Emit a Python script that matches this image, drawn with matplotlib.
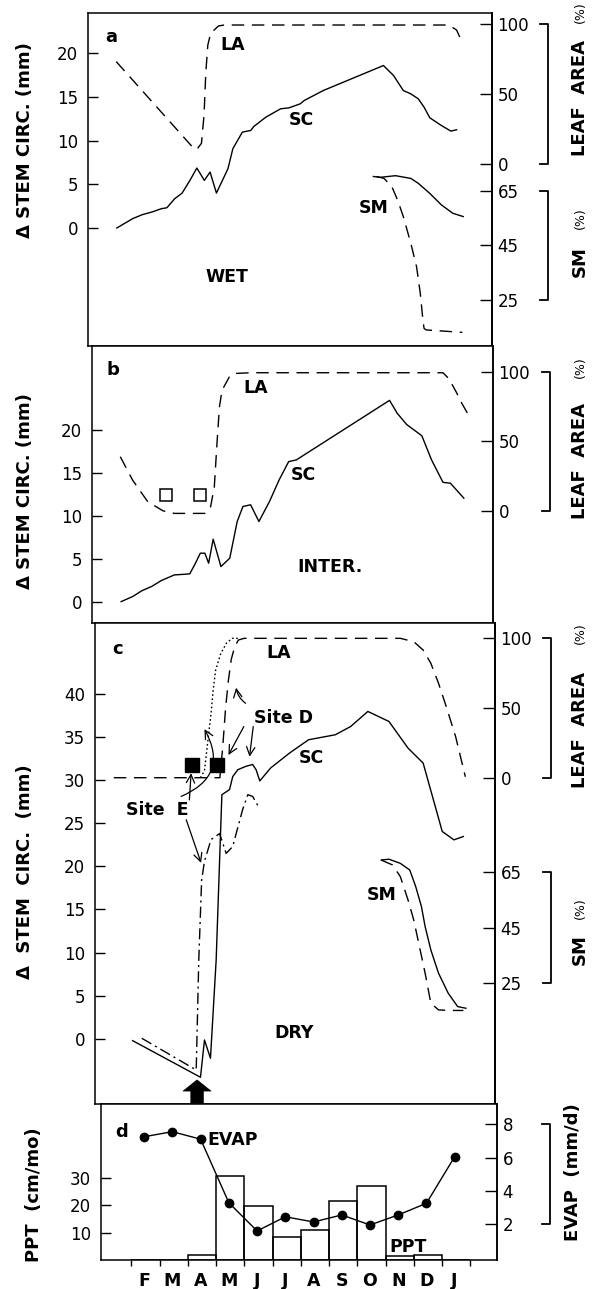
import numpy as np
import matplotlib
matplotlib.use('Agg')
import matplotlib.pyplot as plt
from matplotlib.transforms import blended_transform_factory

# ---- data (x in months from start of Feb) ----
# a: WET
a_sc_x = [-0.08, 0.47, 0.80, 1.14, 1.47, 1.66, 1.93, 2.19, 2.46, 2.70, 2.96, 3.16, 3.38, 3.78, 3.95, 4.28,
          4.57, 4.68, 5.10, 5.61, 5.90, 6.29, 6.43, 7.09, 9.18, 9.53, 9.87, 10.13, 10.39, 10.59, 10.79,
          11.19, 11.52, 11.72]
a_sc = [0, 1.07, 1.52, 1.83, 2.21, 2.32, 3.35, 4.0, 5.45, 6.86, 5.45, 6.4, 4.0, 6.78, 9.07, 10.97,
        11.16, 11.62, 12.69, 13.64, 13.75, 14.21, 14.59, 15.73, 18.59, 17.45, 15.73, 15.35, 14.78, 13.83, 12.61,
        11.73, 11.09, 11.24]
a_la_x = [-0.10, 2.59, 2.70, 2.86, 2.95, 3.01, 3.08, 3.18, 3.45, 3.65, 11.45, 11.72, 11.85]
a_la = [73.3, 11.2, 10.5, 14.8, 35, 65, 85, 93.6, 98.8, 99.5, 99.5, 95.9, 90]
a_sm_x = [8.83, 9.07, 9.60, 10.13, 10.39, 10.79, 11.19, 11.59, 11.95]
a_sm = [70.3, 70.0, 70.6, 69.6, 67.8, 64.1, 59.9, 56.8, 55.6]
a_sm2_x = [8.94, 9.20, 9.47, 9.67, 9.87, 10.13, 10.33, 10.46, 10.55, 10.59, 10.66, 11.92]
a_sm2 = [70.3, 69.6, 66.6, 61.7, 55.6, 45.8, 37.2, 27.4, 17.7, 14.6, 14.0, 13.1]

# b: INTER.
b_sc_x = [-0.06, 0.34, 0.67, 1.0, 1.34, 1.80, 2.34, 2.54, 2.71, 2.87, 3.0, 3.16, 3.43, 3.74, 4.00, 4.20,
          4.47, 4.76, 5.13, 5.47, 5.80, 6.07, 6.40, 9.33, 9.60, 9.93, 10.46, 10.80, 11.20, 11.46, 11.93]
b_sc = [0.08, 0.66, 1.35, 1.82, 2.51, 3.17, 3.29, 4.53, 5.69, 5.69, 4.53, 7.31, 4.14, 5.11, 9.36, 11.1,
        11.3, 9.36, 11.68, 14.2, 16.3, 16.5, 17.2, 23.4, 21.9, 20.6, 19.3, 16.5, 13.9, 13.8, 12.07]
b_la_x = [-0.09, 0.34, 0.87, 1.40, 1.80, 2.20, 2.87, 3.07, 3.20, 3.30, 3.38, 3.47, 3.60, 3.74, 3.94, 4.47,
          11.20, 11.40, 11.66, 11.86, 12.06]
b_la = [39, 22.2, 6.7, 0.2, -1.7, -1.7, -1.7, 3.1, 17.5, 51, 74.9, 86.8, 91.6, 96.9, 98.8, 99.3,
        99.3, 95.2, 85.6, 77.3, 70.1]
b_sq_x = [1.51, 2.71]
b_sq = [12.4, 12.4]

# c: DRY
c_sc_x = [0.24, 2.62, 2.76, 2.97, 3.17, 3.37, 3.46, 3.64, 3.75, 3.93, 4.22, 4.45, 4.57, 4.70, 5.08, 5.74,
          6.41, 7.35, 7.89, 8.49, 9.23, 9.90, 10.43, 11.10, 11.51, 11.84]
c_sc = [-0.2, -4.44, -0.12, -2.24, 9.16, 28.3, 28.5, 28.9, 30.4, 31.2, 31.6, 31.8, 31.2, 29.9, 31.4, 33.12,
        34.67, 35.25, 36.21, 37.95, 36.79, 33.70, 31.96, 24.04, 23.07, 23.46]
c_se_x = [0.56, 2.47, 2.56, 2.66, 2.76, 2.99, 3.29, 3.52, 3.75, 4.10, 4.28, 4.45, 4.69]
c_se = [0.08, -3.6, 9.16, 18.4, 20.6, 23.1, 23.8, 21.5, 22.3, 26.6, 28.3, 28.1, 26.7]
c_la_x = [-0.42, 3.30, 3.40, 3.50, 3.60, 3.70, 3.82, 3.95, 4.15, 9.63, 10.10, 10.43, 10.70, 10.97, 11.24,
          11.57, 11.91]
c_la = [0, 0, 22, 50, 70, 85, 94, 98.8, 100, 100, 97.6, 91.6, 82.1, 67.7, 51.0, 29.4, 0.7]
c_le_x = [2.62, 2.76, 2.87, 2.99, 3.06, 3.15, 3.33, 3.53, 3.73, 3.95]
c_le = [0, 5, 25, 46, 62, 77, 89, 96.5, 100, 100]
c_sm_x = [8.96, 9.23, 9.63, 9.96, 10.17, 10.37, 10.50, 10.70, 10.97, 11.31, 11.64, 11.93]
c_sm = [69.4, 69.7, 68.2, 65.8, 59.8, 52.6, 45.4, 37.0, 28.6, 21.4, 16.6, 16.0]
c_sm2_x = [8.96, 9.36, 9.63, 9.90, 10.10, 10.30, 10.50, 10.70, 10.97, 11.37, 11.84]
c_sm2 = [69.4, 67.6, 63.4, 55.0, 47.8, 38.2, 28.6, 17.8, 15.4, 15.2, 15.2]
c_sq_x = [2.33, 3.20]
c_sq = [31.8, 31.8]

# d: climate
months = ['F', 'M', 'A', 'M', 'J', 'J', 'A', 'S', 'O', 'N', 'D', 'J']
ppt = [0, 0, 1.8, 30.9, 19.8, 8.3, 11.0, 21.7, 27.2, 1.5, 1.8, 0]
evap = [7.25, 7.55, 7.10, 3.29, 1.60, 2.45, 2.14, 2.56, 1.96, 2.56, 3.26, 6.05]

# ---- figure ----
W, H = 596, 1289
fig = plt.figure(figsize=(W / 100, H / 100), dpi=100)
XLIM = (-1.08, 12.95)
DASH = (0, (9, 5.5))
LW = 1.0


def box(x0, y0, x1, y1):
    return [x0 / W, 1 - y1 / H, (x1 - x0) / W, (y1 - y0) / H]


def ftext(px, py, s, **kw):
    kw.setdefault('ha', 'center')
    kw.setdefault('va', 'center')
    kw.setdefault('fontweight', 'bold')
    kw.setdefault('fontsize', 12.5)
    fig.text(px / W, 1 - py / H, s, **kw)


def setup(ax, ylim, yticks):
    ax.set_xlim(*XLIM)
    ax.set_ylim(*ylim)
    ax.set_yticks(yticks)
    ax.set_xticks([])
    ax.tick_params(axis='y', direction='in', length=7, width=1, pad=7, labelsize=12)
    for s in ax.spines.values():
        s.set_linewidth(1.1)


def twin(ax, ylim, yticks):
    t = ax.twinx()
    t.set_ylim(*ylim)
    t.set_yticks(yticks)
    t.tick_params(axis='y', direction='in', length=9, width=1, pad=4, labelsize=12)
    for k in ['left', 'top', 'bottom']:
        t.spines[k].set_visible(False)
    t.spines['right'].set_linewidth(1.1)
    return t


def bracket(ax, t, xa, y0, y1):
    tr = blended_transform_factory(ax.transAxes, t.transData)
    t.plot([xa - 0.02, xa, xa, xa - 0.02], [y1, y1, y0, y0], transform=tr,
           clip_on=False, color='k', lw=1.3)


# panel a
ax_a = fig.add_axes(box(88, 13, 492, 346))
setup(ax_a, (-13.5, 24.6), [0, 5, 10, 15, 20])
la_a = twin(ax_a, (-130.3, 108.1), [0, 50, 100])
sm_a = twin(ax_a, (8.1, 130.3), [25, 45, 65])
ax_a.plot(a_sc_x, a_sc, 'k-', lw=LW)
la_a.plot(a_la_x, a_la, 'k', ls=DASH, lw=LW)
sm_a.plot(a_sm_x, a_sm, 'k-', lw=LW)
sm_a.plot(a_sm2_x, a_sm2, 'k', ls=DASH, lw=LW)
bracket(ax_a, la_a, 1.139, 0, 100)
bracket(ax_a, sm_a, 1.139, 25, 65)

# panel b
ax_b = fig.add_axes(box(92, 346, 493, 623))
setup(ax_b, (-2.4, 29.7), [0, 5, 10, 15, 20])
la_b = twin(ax_b, (-80.4, 118.5), [0, 50, 100])
ax_b.plot(b_sc_x, b_sc, 'k-', lw=LW)
la_b.plot(b_la_x, b_la, 'k', ls=DASH, lw=LW)
ax_b.plot(b_sq_x, b_sq, 's', mfc='white', mec='k', mew=1.1, ms=9)
bracket(ax_b, la_b, 1.142, 0, 100)

# panel c
ax_c = fig.add_axes(box(95, 623, 495, 1104))
setup(ax_c, (-7.54, 48.2), [0, 5, 10, 15, 20, 25, 30, 35, 40])
la_c = twin(ax_c, (-234.1, 111.0), [0, 50, 100])
sm_c = twin(ax_c, (-18.5, 154.8), [25, 45, 65])
ax_c.plot(c_sc_x, c_sc, 'k-', lw=LW)
ax_c.plot(c_se_x, c_se, 'k', ls=(0, (8, 3, 1.5, 3)), lw=LW)
la_c.plot(c_la_x, c_la, 'k', ls=DASH, lw=LW)
la_c.plot(c_le_x, c_le, 'k', ls=(0, (1.2, 1.8)), lw=LW)
sm_c.plot(c_sm_x, c_sm, 'k-', lw=LW)
sm_c.plot(c_sm2_x, c_sm2, 'k', ls=DASH, lw=LW)
ax_c.plot(c_sq_x, c_sq, 's', color='k', ms=10)
bracket(ax_c, la_c, 1.141, 0, 100)
bracket(ax_c, sm_c, 1.141, 25, 65)

thin = dict(arrowstyle='->,head_length=0.6,head_width=0.3', lw=0.9, color='k',
            shrinkA=0, shrinkB=0)
ax_c.annotate('', xy=(2.76, 35.9), xytext=(1.94, 28.1),
              arrowprops=dict(thin, connectionstyle='arc3,rad=0.55'))
ax_c.annotate('', xy=(2.29, 30.8), xytext=(2.23, 27.7), arrowprops=thin)
ax_c.annotate('', xy=(2.64, 20.4), xytext=(2.12, 25.4), arrowprops=thin)
ax_c.annotate('', xy=(3.60, 32.9), xytext=(4.14, 36.2), arrowprops=thin)
ax_c.annotate('', xy=(4.34, 32.7), xytext=(4.47, 36.2), arrowprops=thin)
ax_c.annotate('', xy=(3.87, 40.7), xytext=(4.20, 38.9),
              arrowprops=dict(thin, connectionstyle='arc3,rad=-0.2'))
ax_c.annotate('', xy=(2.50, -4.75), xytext=(2.50, -7.45),
              arrowprops=dict(arrowstyle='simple,head_length=0.4,head_width=1.0,tail_width=0.45',
                              mutation_scale=20, fc='k', ec='k', lw=0.5, shrinkA=0, shrinkB=0))

# panel d
ax_d = fig.add_axes(box(101, 1104, 497, 1260))
ax_d.set_xlim(*XLIM)
ax_d.set_ylim(0, 57.1)
ax_d.bar(np.arange(len(months)), ppt, width=1, align='edge', fill=False, edgecolor='k', lw=1.1)
ax_d.set_yticks([10, 20, 30])
ax_d.tick_params(axis='y', direction='in', length=7, width=1, pad=7, labelsize=12)
ax_d.set_xticks(np.arange(13))
ax_d.set_xticklabels([])
ax_d.set_xticks(np.arange(len(months)) + 0.45, minor=True)
ax_d.set_xticklabels(months, minor=True, fontweight='bold', fontsize=12.5)
ax_d.tick_params(axis='x', which='major', direction='out', length=4, width=1)
ax_d.tick_params(axis='x', which='minor', length=0, pad=9)
for s in ax_d.spines.values():
    s.set_linewidth(1.1)
ev_d = twin(ax_d, (-0.14, 9.21), [2, 4, 6, 8])
ev_d.plot(np.arange(len(months)) + 0.45, evap, 'k-o', lw=LW, ms=6)
bracket(ax_d, ev_d, 1.134, 2, 8)

# ---- text ----
ftext(25, 140, '\u0394 STEM CIRC. (mm)', rotation=90, fontsize=13)
ftext(25, 491, '\u0394 STEM CIRC. (mm)', rotation=90, fontsize=13)
ftext(25, 872, '\u0394  STEM  CIRC.  (mm)', rotation=90, fontsize=13)
ftext(34, 1195, 'PPT  (cm/mo)', rotation=90, fontsize=13)

ftext(580, 98, 'LEAF  AREA', rotation=90, fontsize=13)
ftext(580, 12, '(%)', rotation=90, fontsize=9, fontweight='normal')
ftext(580, 262, 'SM', rotation=90, fontsize=13)
ftext(580, 218, '(%)', rotation=90, fontsize=9, fontweight='normal')
ftext(580, 461, 'LEAF  AREA', rotation=90, fontsize=13)
ftext(580, 367, '(%)', rotation=90, fontsize=9, fontweight='normal')
ftext(580, 730, 'LEAF  AREA', rotation=90, fontsize=13)
ftext(580, 633, '(%)', rotation=90, fontsize=9, fontweight='normal')
ftext(580, 950, 'SM', rotation=90, fontsize=13)
ftext(580, 908, '(%)', rotation=90, fontsize=9, fontweight='normal')
ftext(573, 1172, 'EVAP  (mm/d)', rotation=90, fontsize=13)

ftext(111, 37, 'a', fontsize=13)
ftext(233, 45, 'LA')
ftext(301, 120, 'SC')
ftext(374, 208, 'SM')
ftext(227, 277, 'WET')

ftext(113, 370, 'b', fontsize=13)
ftext(256, 388, 'LA')
ftext(303, 475, 'SC')
ftext(330, 567, 'INTER.')

ftext(118, 649, 'c', fontsize=13)
ftext(279, 653, 'LA')
ftext(311, 758, 'SC')
ftext(382, 895, 'SM')
ftext(284, 718, 'Site D')
ftext(157, 810, 'Site  E')
ftext(294, 1033, 'DRY')

ftext(122, 1132, 'd', fontsize=13)
ftext(233, 1140, 'EVAP')
ftext(408, 1247, 'PPT')

fig.savefig('out.png', dpi=100)
